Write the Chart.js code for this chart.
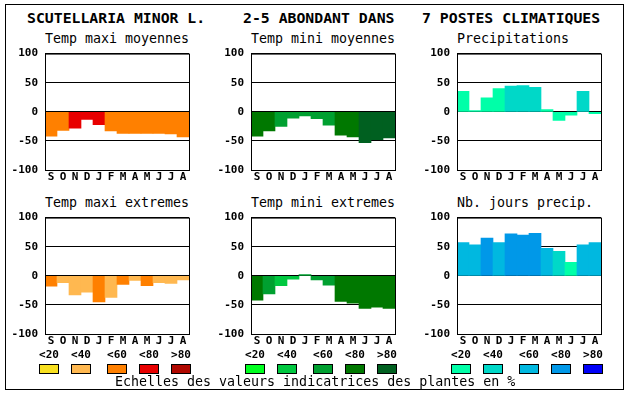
<!DOCTYPE html>
<html>
<head>
<meta charset="utf-8">
<script src="https://cdn.jsdelivr.net/npm/chart.js@4.4.1/dist/chart.umd.min.js"></script>
<style>
html, body { margin:0; padding:0; background:#fff; }
body { width:630px; height:394px; position:relative; overflow:hidden; font-family:"DejaVu Sans Mono", monospace; color:#000; }
#frame { position:absolute; left:5px; top:4px; width:617px; height:384px; border:1px solid #000; }
.t { position:absolute; white-space:pre; line-height:1; }
.head { font-size:14.8px; font-weight:bold; top:11px; }
.sub { font-size:13.3px; }
.lab { font-size:11px; font-weight:bold; width:20px; text-align:center; top:349px; }
.box { position:absolute; width:18px; height:8px; border:1px solid #000; top:364px; }
canvas { position:absolute; }
</style>
</head>
<body>
<div id="frame"></div>

<div class="t head" style="left:27px">SCUTELLARIA MINOR L.</div>
<div class="t head" style="left:243px">2-5 ABONDANT DANS</div>
<div class="t head" style="left:422px">7 POSTES CLIMATIQUES</div>

<div class="t sub" style="left:45px;top:32px">Temp maxi moyennes</div>
<div class="t sub" style="left:251px;top:32px">Temp mini moyennes</div>
<div class="t sub" style="left:457px;top:32px">Precipitations</div>
<div class="t sub" style="left:45px;top:196px">Temp maxi extremes</div>
<div class="t sub" style="left:251px;top:196px">Temp mini extremes</div>
<div class="t sub" style="left:457px;top:196px">Nb. jours precip.</div>

<canvas id="c1" width="192" height="150" style="left:0px;top:40px"></canvas>
<canvas id="c2" width="192" height="150" style="left:206px;top:40px"></canvas>
<canvas id="c3" width="192" height="150" style="left:412px;top:40px"></canvas>
<canvas id="c4" width="192" height="150" style="left:0px;top:204px"></canvas>
<canvas id="c5" width="192" height="150" style="left:206px;top:204px"></canvas>
<canvas id="c6" width="192" height="150" style="left:412px;top:204px"></canvas>

<div id="legends"></div>
<div class="t sub" style="left:115px;top:375px">Echelles des valeurs indicatrices des plantes en %</div>

<script>
/* ── data (indices de classe : 0 <20, 1 <40, 2 <60, 3 <80, 4 >80) ── */
const MONTHS        = ['S','O','N','D','J','F','M','A','M','J','J','A'];
const CLASS_LABELS  = ['<20','<40','<60','<80','>80'];

const tmaxMoy    = [-42,-32,-28,-13,-22,-33,-37,-37,-37,-37,-38,-43];
const tmaxMoyCls = [  2,  2,  3,  3,  3,  2,  2,  2,  2,  2,  2,  2];

const tminMoy    = [-42,-33,-25,-11, -7,-12,-23,-40,-43,-53,-48,-45];
const tminMoyCls = [  3,  3,  2,  2,  2,  2,  2,  3,  3,  4,  4,  4];

const precip     = [ 35,  2, 24, 40, 44, 45, 42,  4,-15, -6, 35, -3];
const precipCls  = [  0,  0,  0,  0,  1,  1,  1,  0,  0,  0,  1,  0];

const tmaxExt    = [-18,-12,-33,-28,-45,-37,-15, -8,-17,-12,-13, -7];
const tmaxExtCls = [  2,  1,  1,  1,  2,  1,  2,  1,  2,  1,  1,  1];

const tminExt    = [-42,-31,-17, -6,  2, -7,-16,-44,-47,-56,-54,-56];
const tminExtCls = [  3,  2,  1,  1,  2,  2,  2,  3,  3,  3,  3,  3];

const nbJours    = [ 57, 53, 65, 57, 72, 70, 73, 47, 42, 23, 53, 57];
const nbJoursCls = [  2,  2,  3,  2,  3,  3,  3,  2,  1,  0,  2,  2];

/* ── palettes ── */
const HOT   = ['#F8E020','#FFB850','#FF8000','#E80000','#B00800'];
const GREEN = ['#00FF20','#00C840','#00A030','#007800','#006020'];
const BLUE  = ['#00FFA8','#00D8C8','#00B8E0','#0098E8','#0000F8'];

const MONO = '"DejaVu Sans Mono", monospace';
const TICK_FONT = { family: MONO, size: 11, weight: 'bold' };

const framePlugin = {
    id: 'frame',
    afterDraw(chart) {
        const a = chart.chartArea, ctx = chart.ctx;
        ctx.save();
        ctx.strokeStyle = '#000';
        ctx.lineWidth = 1;
        ctx.strokeRect(a.left + 0.5, a.top + 0.5, a.right - a.left, a.bottom - a.top);
        ctx.restore();
    }
};

function panel(id, values, classes, palette) {
    return new Chart(document.getElementById(id), {
        type: 'bar',
        data: {
            labels: MONTHS,
            datasets: [{
                data: values,
                backgroundColor: classes.map(c => palette[c]),
                borderWidth: 0,
                barPercentage: 1,
                categoryPercentage: 1
            }]
        },
        options: {
            responsive: false,
            animation: false,
            devicePixelRatio: 1,
            layout: { padding: { top: 10, right: 3, left: 0, bottom: 0 } },
            plugins: { legend: { display: false }, tooltip: { enabled: false } },
            scales: {
                x: {
                    grid: { display: false, drawTicks: false },
                    border: { display: false },
                    ticks: { color: '#000', font: TICK_FONT, padding: 1, maxRotation: 0, autoSkip: false },
                    afterFit: s => { s.height = 20; }
                },
                y: {
                    min: -100, max: 100, z: 1,
                    grid: { color: '#000', lineWidth: 1, drawTicks: false },
                    border: { display: false },
                    ticks: { stepSize: 50, color: '#000', font: TICK_FONT, padding: 7 },
                    afterFit: s => { s.width = 45; }
                }
            }
        },
        plugins: [framePlugin]
    });
}

panel('c1', tmaxMoy, tmaxMoyCls, HOT);
panel('c2', tminMoy, tminMoyCls, GREEN);
panel('c3', precip,  precipCls,  BLUE);
panel('c4', tmaxExt, tmaxExtCls, HOT);
panel('c5', tminExt, tminExtCls, GREEN);
panel('c6', nbJours, nbJoursCls, BLUE);

/* ── class legends under each column ── */
const legendHost = document.getElementById('legends');
const COLUMN_LEFT = [45, 251, 457];
const KEY_OFFSET  = [-6, 26, 62, 94, 126];
[HOT, GREEN, BLUE].forEach((pal, col) => {
    CLASS_LABELS.forEach((txt, i) => {
        const x = COLUMN_LEFT[col] + KEY_OFFSET[i];
        const lab = document.createElement('div');
        lab.className = 't lab';
        lab.style.left = x + 'px';
        lab.textContent = txt;
        legendHost.appendChild(lab);
        const box = document.createElement('div');
        box.className = 'box';
        box.style.left = x + 'px';
        box.style.background = pal[i];
        legendHost.appendChild(box);
    });
});
</script>
</body>
</html>
